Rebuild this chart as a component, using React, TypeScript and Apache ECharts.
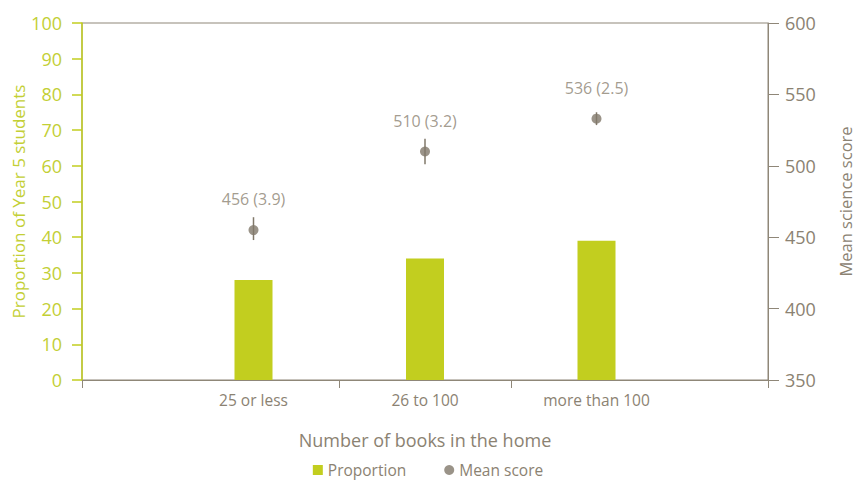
import React, { useEffect, useRef } from "react";
import * as echarts from "echarts";

const categories = ["25 or less", "26 to 100", "more than 100"];
const proportion = [28, 34, 39];
const meanScore = [455, 510, 533];
const scoreLabels = ["456 (3.9)", "510 (3.2)", "536 (2.5)"];
const errLow = [448, 501, 528.5];
const errHigh = [464, 519, 537.5];
const leftTicks = { min: 0, max: 100, interval: 10 };
const rightTicks = { min: 350, max: 600, interval: 50 };

const GREEN = "#c2ce1f";
const GREEN_TEXT = "#c3cf35";
const GRAY = "#8b8272";
const GRAY_LINE = "#8f8778";
const DOT = "#81786a";
const FONT = "'Open Sans', 'Noto Sans', sans-serif";

export default function App() {
  const ref = useRef<HTMLDivElement>(null);
  useEffect(() => {
    document.body.style.margin = "0";
    if (!ref.current) return;
    const chart = echarts.init(ref.current, undefined, { renderer: "svg" });
    const slots: string[] = ["", ""];
    categories.forEach((c) => {
      slots.push(c);
      slots.push("");
    });
    slots.push("");
    const idx = (i: number) => 2 + 2 * i;
    const barData = slots.map(() => null as number | null);
    const dotData = slots.map(() => null as any);
    proportion.forEach((v, i) => (barData[idx(i)] = v));
    meanScore.forEach((v, i) => (dotData[idx(i)] = { value: v, label: { formatter: scoreLabels[i] } }));
    const errData = categories.map((_, i) => [idx(i), errLow[i], errHigh[i]]);
    const tickSlots = [0, idx(0) + 1, idx(1) + 1, slots.length - 1];

    chart.setOption({
      animation: false,
      textStyle: { fontFamily: FONT },
      grid: {
        left: 82,
        right: 88,
        top: 23,
        bottom: 101,
        containLabel: false,
        outerBoundsMode: "none",
        show: true,
        borderColor: GRAY_LINE,
        borderWidth: 1,
      },
      legend: {
        top: 457,
        left: "center",
        itemWidth: 10,
        itemHeight: 10,
        itemGap: 38,
        textStyle: { color: GRAY, fontSize: 15.5, fontFamily: FONT },
        data: [
          { name: "Proportion", icon: "rect" },
          { name: "Mean score", icon: "circle" },
        ],
      },
      xAxis: {
        type: "category",
        data: slots,
        boundaryGap: false,
        name: "Number of books in the home",
        nameLocation: "middle",
        nameGap: 51,
        nameMoveOverlap: false,
        nameTextStyle: { color: GRAY, fontSize: 18, fontFamily: FONT },
        axisLine: { show: true, lineStyle: { color: GRAY_LINE, width: 1 } },
        axisTick: {
          show: true,
          length: 8,
          interval: (i: number) => tickSlots.indexOf(i) >= 0,
          lineStyle: { color: GRAY_LINE },
        },
        axisLabel: {
          interval: 0,
          color: GRAY,
          fontSize: 15.5,
          margin: 12,
          fontFamily: FONT,
        },
        splitLine: { show: false },
      },
      yAxis: [
        {
          type: "value",
          position: "left",
          ...leftTicks,
          name: "Proportion of Year 5 students",
          nameLocation: "middle",
          nameGap: 55,
          nameMoveOverlap: false,
          nameTextStyle: { color: GREEN_TEXT, fontSize: 17, fontFamily: FONT },
          axisLine: { show: true, lineStyle: { color: GREEN, width: 1.5 } },
          axisTick: { show: true, length: 10, lineStyle: { color: GREEN, width: 1.5 } },
          axisLabel: { color: GREEN_TEXT, fontSize: 18, margin: 20, fontFamily: FONT },
          splitLine: { show: false },
        },
        {
          type: "value",
          position: "right",
          ...rightTicks,
          name: "Mean science score",
          nameLocation: "middle",
          nameGap: 69,
          nameMoveOverlap: false,
          nameTextStyle: { color: GRAY, fontSize: 16.5, fontFamily: FONT },
          axisLine: { show: true, lineStyle: { color: GRAY_LINE, width: 1 } },
          axisTick: { show: true, length: 11, lineStyle: { color: GRAY_LINE } },
          axisLabel: { color: GRAY, fontSize: 18, margin: 17, fontFamily: FONT },
          splitLine: { show: false },
        },
      ],
      series: [
        {
          name: "Proportion",
          type: "bar",
          yAxisIndex: 0,
          data: barData,
          barWidth: 38,
          itemStyle: { color: GREEN },
        },
        {
          name: "Error",
          type: "custom",
          yAxisIndex: 1,
          data: errData,
          z: 3,
          renderItem: (params: any, api: any) => {
            const x = api.value(0);
            const lo = api.coord([x, api.value(1)]);
            const hi = api.coord([x, api.value(2)]);
            return {
              type: "line",
              shape: { x1: lo[0], y1: lo[1], x2: hi[0], y2: hi[1] },
              style: { stroke: DOT, lineWidth: 1.5 },
            };
          },
          tooltip: { show: false },
        },
        {
          name: "Mean score",
          type: "scatter",
          yAxisIndex: 1,
          data: dotData,
          symbol: "circle",
          symbolSize: 10,
          z: 4,
          itemStyle: { color: DOT },
          label: {
            show: true,
            position: "top",
            distance: 18,
            color: GRAY,
            fontSize: 16,
            fontFamily: FONT,
          },
        },
      ],
    });
    return () => chart.dispose();
  }, []);
  return <div ref={ref} style={{ width: 856, height: 481 }} />;
}
